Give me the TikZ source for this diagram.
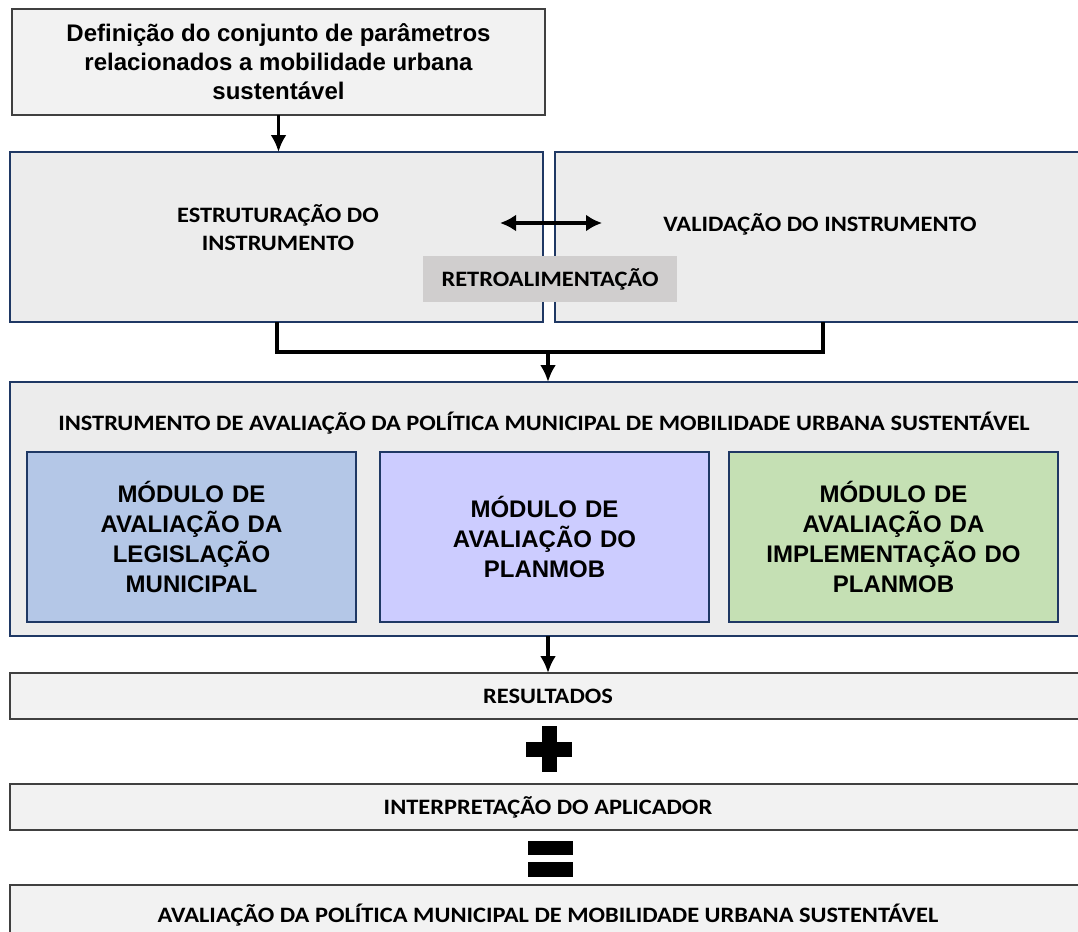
\documentclass[tikz,border=0pt]{standalone}
\usepackage{fontspec}
\setmainfont{Liberation Sans}
\newfontfamily\calib[FakeStretch=1.11]{Carlito}
\usetikzlibrary{shapes,arrows,arrows.meta}
\usetikzlibrary{calc}
\definecolor{boxgray}{RGB}{242,242,242}
\definecolor{panelgray}{RGB}{236,236,236}
\definecolor{retrogray}{RGB}{208,206,206}
\definecolor{navy}{RGB}{31,56,100}
\definecolor{modblue}{RGB}{180,199,231}
\definecolor{modlilac}{RGB}{204,204,255}
\definecolor{modgreen}{RGB}{197,224,180}

\begin{document}
\begin{tikzpicture}[x=1pt,y=-1pt]

\tikzstyle{gray-b} = [draw=black!75, fill=boxgray, line width=1.5, inner sep=0, outer sep=0]
\tikzstyle{navy-b} = [draw=navy, fill=panelgray, line width=2, inner sep=0, outer sep=0]
\tikzstyle{module} = [draw=navy, line width=2, inner sep=0, outer sep=0,
minimum width=329, minimum height=170, text width=300, align=center,
font=\fontsize{24}{30}\selectfont\bfseries]
\tikzstyle{caps} = [font=\calib\fontsize{22}{28}\selectfont\bfseries, align=center]
\tikzstyle{flow} = [line width=3.5, -{Latex[length=17pt,width=16pt]}]

\useasboundingbox (0,0) rectangle (1078,931);

% parameters
\node [gray-b, minimum width=533, minimum height=106, align=center,
font=\fontsize{24}{29}\selectfont\bfseries] (params) at (278.5,62)
{Definição do conjunto de parâmetros\\relacionados a mobilidade urbana\\sustentável};

% structuring / validation
\node [navy-b, minimum width=533, minimum height=170] (estr) at (276.5,237) {};
\node [navy-b, minimum width=535, minimum height=170] (valid) at (822.5,237) {};
\node [caps] (estr-t) at (278,228) {ESTRUTURAÇÃO DO\\INSTRUMENTO};
\node [caps] (valid-t) at (820,224) {VALIDAÇÃO DO INSTRUMENTO};
\node [caps, fill=retrogray, minimum width=254, minimum height=46, inner sep=0] (retro) at (550,279) {RETROALIMENTAÇÃO};
\coordinate (fb-l) at (500,223);
\coordinate (fb-r) at (602,223);
\draw [line width=3.5, {Latex[length=16pt,width=17pt]}-{Latex[length=16pt,width=17pt]}] (fb-l) -- (fb-r);

\draw [flow] (params.south) -- (params.south |- estr.north);

\coordinate (merge) at (548,352);
\draw [line width=4] (estr.south) -- (estr.south |- merge) -| (valid.south);
\draw [flow] (merge) -- (merge |- 0,382);

% instrument
\node [navy-b, minimum width=1076, minimum height=254] (instr) at (548,509) {};
\node [caps] (instr-t) at (544,423) {INSTRUMENTO DE AVALIAÇÃO DA POLÍTICA MUNICIPAL DE MOBILIDADE URBANA SUSTENTÁVEL};
\node [module, fill=modblue] (mod-leg) at (191.5,537) {MÓDULO DE\\AVALIAÇÃO DA\\LEGISLAÇÃO\\MUNICIPAL};
\node [module, fill=modlilac] (mod-plan) at (544.5,537) {MÓDULO DE\\AVALIAÇÃO DO\\PLANMOB};
\node [module, fill=modgreen] (mod-impl) at (893.5,537) {MÓDULO DE\\AVALIAÇÃO DA\\IMPLEMENTAÇÃO DO\\PLANMOB};

% results
\node [gray-b, caps, minimum width=1076, minimum height=46] (res) at (548,696) {RESULTADOS};
\draw [flow] (instr.south) -- (res.north);

\fill (542,726) rectangle (557,772);
\fill (526,742) rectangle (572,757);

\node [gray-b, caps, minimum width=1076, minimum height=46] (interp) at (548,807) {INTERPRETAÇÃO DO APLICADOR};

\fill (528,841) rectangle (573,855);
\fill (528,862) rectangle (573,877);

\node [gray-b, caps, minimum width=1076, minimum height=60] (final) at (548,915) {AVALIAÇÃO DA POLÍTICA MUNICIPAL DE MOBILIDADE URBANA SUSTENTÁVEL};

\end{tikzpicture}
\end{document}
